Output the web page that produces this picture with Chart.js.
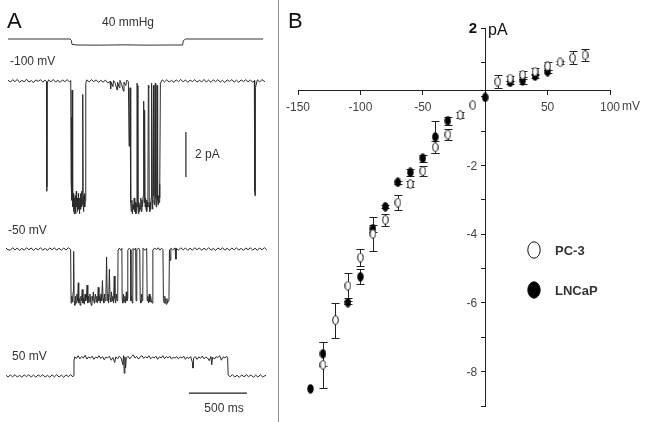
<!DOCTYPE html>
<html>
<head>
<meta charset="utf-8">
<script src="https://cdn.jsdelivr.net/npm/chart.js@4"></script>
<style>
  body { margin: 0; background: #fff; }
  #wrap { position: relative; width: 649px; height: 422px; }
  #cA { position: absolute; left: 0; top: 0; }
  #cB { position: absolute; left: 280px; top: 0; }
  #divider { position: absolute; left: 278px; top: 0; width: 1px; height: 422px; background: #8c8c8c; }
</style>
</head>
<body>
<div id="wrap">
  <canvas id="cA" width="278" height="422"></canvas>
  <div id="divider"></div>
  <canvas id="cB" width="369" height="422"></canvas>
</div>
<script>
// ---------- panel A : single channel traces (time in ms, current in pA) ----------
const pressureTrace = [[0,0],[534,0],[545,-8],[552,-36],[595,-40],[800,-41],[1000,-39],[1200,-41],[1400,-40],[1506,-40],[1511,-12],[1530,0],[2200,0]];

const trace100 = [[0,0.04],[20,-0.05],[40,0.06],[60,-0.03],[80,0.07],[100,-0.06],[120,0.03],[140,-0.04],[160,0.08],[180,-0.05],[200,0.02],[220,-0.07],[240,0.05],[260,-0.02],[280,0.06],[300,-0.05],[320,0.04],[332,-0.03],
  [334,-4.9],[336,-4.7],[338,-0.1],
  [350,0.05],[370,-0.04],[390,0.07],[410,-0.05],[430,0.03],[450,-0.06],[470,0.05],[490,-0.03],[510,0.06],[530,-0.04],[541,0.02],
  [544,-4.4],[547,-5.1],[549,-1.6],[551,-5.3],[553,-0.4],[556,-5.2],[559,-5.6],[562,-5.0],[565,-5.8],[568,-5.3],[571,-5.9],[574,-5.2],[577,-5.7],[580,-5.1],[583,-5.9],[586,-5.4],[589,-4.9],[592,-5.6],[595,-5.2],[598,-5.8],[601,-5.3],[604,-5.6],[607,-5.0],[610,-5.7],[613,-5.4],[616,-5.9],[619,-5.2],[622,-5.5],[625,-5.0],[628,-5.7],[631,-5.3],[634,-5.6],[637,-4.9],[640,-5.5],[643,-5.2],[646,-0.6],[648,-5.4],[651,-5.8],[654,-5.1],[657,-5.5],[660,-5.0],[663,-5.6],[666,-5.3],[669,-4.8],[672,-0.1],
  [680,0.05],[700,-0.04],[720,0.06],[740,-0.03],[760,0.05],[780,-0.06],[800,0.03],[820,-0.05],[840,0.04],[860,-0.08],[880,-0.02],[885,-0.35],[890,-0.05],[905,-0.25],[910,0.02],[925,-0.1],[940,-0.4],[945,-0.05],[960,-0.3],[965,0.03],[980,-0.15],[995,-0.45],[1000,-0.05],[1015,-0.2],[1025,0.04],[1038,-0.03],
  [1044,-2.9],[1048,-2.7],[1052,-0.3],[1058,-5.4],[1063,-5.8],[1068,-5.3],[1073,-5.9],[1078,-5.5],[1083,-5.7],[1088,-5.2],[1093,-5.8],[1098,-5.4],[1103,-5.9],[1108,-5.5],[1112,-0.1],[1116,-0.2],[1120,-5.6],[1124,-5.9],[1128,-5.4],[1132,-5.8],[1136,-5.5],[1140,-5.7],[1145,-5.2],[1150,-5.8],[1155,-5.3],[1160,-5.6],[1165,-5.1],[1170,-0.9],[1174,-5.4],[1178,-1.3],[1182,-5.6],[1186,-5.2],[1190,-5.7],[1194,-5.3],[1198,-5.8],[1202,-5.4],[1206,-5.6],[1210,-0.2],[1214,-0.3],[1218,-5.5],[1222,-5.8],[1226,-5.4],[1230,-5.7],[1234,-5.2],[1238,-0.1],[1242,-5.3],[1246,-5.7],[1250,-5.4],[1254,-0.2],[1258,-5.1],[1262,-5.5],[1266,-5.3],[1270,-0.1],[1274,-5.2],[1278,-5.6],[1282,-5.0],[1286,-0.2],[1290,-5.3],[1294,-5.5],[1298,-5.1],[1302,-5.4],[1306,-4.6],[1310,-5.2],[1314,-0.1],
  [1330,0.05],[1350,-0.04],[1370,0.06],[1390,-0.05],[1410,0.03],[1430,-0.06],[1450,0.05],[1470,-0.03],[1490,0.07],[1510,-0.04],[1530,0.05],[1550,-0.06],[1570,0.04],[1590,-0.03],[1610,0.06],[1630,-0.05],[1650,0.03],[1670,-0.04],[1690,0.07],[1710,-0.05],[1730,0.04],[1750,-0.06],[1770,0.05],[1790,-0.03],[1810,0.06],[1830,-0.05],[1850,0.03],[1870,-0.07],[1890,0.05],[1910,-0.02],[1930,0.06],[1950,-0.05],[1970,0.04],[1990,-0.06],[2010,0.05],[2030,-0.03],[2050,0.06],[2070,-0.04],[2090,0.05],[2110,-0.06],[2124,0.02],
  [2127,-4.9],[2130,-5.1],[2133,-0.3],[2150,0.05],[2170,-0.04],[2190,0.06],[2215,-0.03]];

const trace50neg = [[-17,0.04],[0,-0.03],[20,-0.05],[40,0.06],[60,-0.04],[80,0.05],[100,-0.06],[120,0.03],[140,-0.05],[160,0.06],[180,-0.03],[200,0.05],[220,-0.06],[240,0.04],[260,-0.04],[280,0.06],[300,-0.05],[320,0.03],[340,-0.06],[360,0.05],[380,-0.03],[400,0.06],[420,-0.05],[440,0.04],[460,-0.06],[480,0.05],[500,-0.04],[520,0.06],[540,-0.02],
  [544,-2.4],[550,-2.1],[556,-2.35],[562,-1.9],[566,-0.1],[570,-2.3],[576,-2.5],[582,-2.1],[588,-2.4],[594,-2.0],[600,-2.3],[606,-1.5],[610,-2.4],[616,-2.2],[622,-2.5],[628,-2.1],[634,-2.3],[640,-1.8],[646,-2.4],[652,-2.2],[658,-2.45],[664,-2.0],[670,-2.3],[676,-2.2],[682,-1.6],[688,-2.4],[694,-2.1],[700,-2.35],[706,-2.0],[712,-2.3],[718,-2.5],[724,-2.1],[730,-2.3],[736,-1.9],[742,-2.4],[748,-2.2],[754,-2.0],[760,-2.35],[766,-2.1],[772,-2.4],[778,-1.7],[784,-2.3],[790,-2.1],[796,-2.4],[802,-2.0],[808,-2.3],[814,-1.4],[820,-2.2],[826,-2.4],[832,-2.0],[838,-2.3],[844,-2.1],[850,-0.35],[856,-2.3],[862,-2.0],[868,-2.4],[874,-0.9],[880,-2.2],[886,-2.35],[892,-1.9],[898,-2.3],[904,-2.1],[910,-2.4],[916,-1.2],[922,-2.2],[928,-2.4],[934,-2.0],[940,-2.3],[946,-2.2],
  [949,-0.05],[960,0.04],[972,-0.05],[982,0.03],
  [984,-2.2],[990,-2.4],[996,-2.0],[1002,-2.35],[1008,-2.1],[1014,-2.4],[1020,-1.9],[1026,-2.3],[1031,-2.2],
  [1033,-0.05],[1046,0.04],[1058,-0.03],
  [1060,-2.3],[1066,-2.1],[1072,-2.4],[1076,-2.2],
  [1078,0.03],[1090,-0.04],[1101,0.05],
  [1104,-2.3],[1109,-2.1],
  [1112,-0.04],[1125,0.05],[1136,-0.03],
  [1140,-2.25],[1146,-2.4],[1152,-2.0],[1158,-2.3],[1162,-2.2],
  [1164,0.04],[1180,-0.05],[1196,0.03],
  [1200,-2.3],[1206,-2.1],[1212,-2.4],[1218,-2.0],[1224,-2.35],[1230,-2.1],[1236,-2.3],[1242,-2.4],[1248,-2.15],
  [1250,-0.04],[1265,0.05],[1280,-0.03],[1295,0.06],[1310,-0.05],[1325,0.04],[1336,-0.02],
  [1340,-2.2],[1346,-2.4],[1352,-2.1],[1358,-2.35],[1364,-2.45],[1370,-2.2],[1376,-2.4],[1382,-2.3],[1388,-2.1],
  [1392,-0.03],[1398,-0.5],[1404,0.04],[1420,-0.04],[1440,0.05],[1448,-0.45],[1452,0.03],[1470,-0.05],[1490,0.06],[1510,-0.04],[1530,0.05],[1550,-0.06],[1570,0.04],[1590,-0.05],[1610,0.06],[1630,-0.03],[1650,0.05],[1670,-0.06],[1690,0.04],[1710,-0.04],[1730,0.06],[1750,-0.05],[1770,0.03],[1790,-0.06],[1810,0.05],[1830,-0.03],[1850,0.06],[1870,-0.05],[1890,0.04],[1910,-0.06],[1930,0.05],[1950,-0.04],[1970,0.06],[1990,-0.05],[2010,0.03],[2030,-0.06],[2050,0.05],[2070,-0.03],[2090,0.06],[2110,-0.05],[2130,0.04],[2150,-0.06],[2170,0.05],[2190,-0.03],[2210,0.06],[2232,-0.04]];

const trace50 = [[-17,0.03],[0,-0.05],[20,0.05],[40,-0.04],[60,0.06],[80,-0.05],[100,0.03],[120,-0.06],[140,0.05],[160,-0.03],[180,0.06],[200,-0.05],[220,0.04],[240,-0.06],[260,0.05],[280,-0.03],[300,0.06],[320,-0.05],[340,0.03],[360,-0.06],[380,0.05],[400,-0.04],[420,0.06],[440,-0.05],[460,0.04],[480,-0.06],[500,0.05],[520,-0.03],[540,0.06],[560,-0.04],[566,0.02],
  [569,0.7],[575,0.85],[590,0.78],[605,0.9],[620,0.76],[635,0.86],[650,0.8],[665,0.92],[680,0.75],[695,0.85],[710,0.79],[725,0.88],[740,0.74],[755,0.84],[770,0.8],[785,0.9],[800,0.77],[815,0.86],[830,0.72],[845,0.84],[860,0.8],[875,0.88],[890,0.7],[905,0.82],[920,0.6],[930,0.85],[945,0.76],[960,0.88],[975,0.8],[990,0.5],[996,0.9],[1002,0.12],[1008,0.85],[1014,0.35],[1020,0.8],[1035,0.88],[1050,0.76],[1065,0.86],[1080,0.94],[1095,0.8],[1110,0.87],[1125,0.75],[1140,0.85],[1155,0.9],[1170,0.78],[1185,0.86],[1200,0.8],[1215,0.9],[1230,0.76],[1245,0.84],[1260,0.8],[1275,0.88],[1290,0.74],[1305,0.85],[1320,0.8],[1335,0.9],[1350,0.77],[1365,0.86],[1380,0.8],[1395,0.88],[1410,0.75],[1425,0.84],[1440,0.79],[1455,0.86],[1470,0.76],[1485,0.85],[1500,0.8],[1515,0.88],[1530,0.74],[1545,0.84],[1560,0.78],[1575,0.86],[1590,0.6],[1595,0.35],[1600,0.8],[1615,0.86],[1630,0.74],[1645,0.85],[1660,0.79],[1675,0.88],[1690,0.76],[1705,0.84],[1720,0.8],[1735,0.68],[1750,0.86],[1757,0.5],[1764,0.84],[1780,0.75],[1795,0.86],[1810,0.82],[1825,0.9],[1840,0.7],[1855,0.85],[1870,0.8],[1885,0.88],[1894,0.78],
  [1898,0.05],[1915,-0.04],[1935,0.06],[1955,-0.05],[1975,0.03],[1995,-0.06],[2015,0.05],[2035,-0.04],[2055,0.06],[2075,-0.03],[2095,0.05],[2115,-0.06],[2135,0.04],[2155,-0.05],[2175,0.06],[2195,-0.04],[2224,0.03]];

// baselines of the three traces on the panel-A current axis
const base100 = -3.6, base50neg = -11.07, base50 = -16.71;

function shift(trace, base) {
  return trace.map(p => ({x: p[0], y: p[1] + base}));
}

const textA = {
  id: 'textA',
  afterDraw(chart) {
    const ctx = chart.ctx;
    const xs = chart.scales.x, ys = chart.scales.y;
    ctx.save();
    ctx.fillStyle = '#111';
    ctx.font = '22px "Liberation Sans", Arial, sans-serif';
    ctx.textBaseline = 'alphabetic';
    ctx.fillText('A', 7, 28);
    ctx.fillStyle = '#333';
    ctx.font = '12px "Liberation Sans", Arial, sans-serif';
    ctx.textBaseline = 'middle';
    ctx.textAlign = 'center';
    ctx.fillText('40 mmHg', 128, 23);
    ctx.fillText('500 ms', 224, 409);
    ctx.textAlign = 'left';
    ctx.fillText('-100 mV', 10, 62);
    ctx.fillText('-50 mV', 8, 231);
    ctx.fillText('50 mV', 12, 357);
    ctx.fillText('2 pA', 195, 155);
    // scale bars
    ctx.strokeStyle = '#222';
    ctx.lineWidth = 1.2;
    ctx.beginPath();
    const bx = xs.getPixelForValue(1534);
    ctx.moveTo(bx, ys.getPixelForValue(-5.87));
    ctx.lineTo(bx, ys.getPixelForValue(-7.87));
    const by = ys.getPixelForValue(-17.47);
    ctx.moveTo(xs.getPixelForValue(1560), by);
    ctx.lineTo(xs.getPixelForValue(2060), by);
    ctx.stroke();
    ctx.restore();
  }
};

const traceStyle = {borderColor: '#2a2a2a', borderWidth: 1, pointRadius: 0, tension: 0, fill: false};

new Chart(document.getElementById('cA'), {
  type: 'line',
  data: {
    datasets: [
      Object.assign({data: pressureTrace.map(p => ({x: p[0], y: p[1]})), yAxisID: 'yP'}, traceStyle, {borderColor: '#333'}),
      Object.assign({data: shift(trace100, base100)}, traceStyle),
      Object.assign({data: shift(trace50neg, base50neg)}, traceStyle),
      Object.assign({data: shift(trace50, base50)}, traceStyle)
    ]
  },
  options: {
    responsive: false,
    animation: false,
    devicePixelRatio: 1,
    layout: {padding: 0},
    plugins: {legend: {display: false}, tooltip: {enabled: false}},
    scales: {
      x: {type: 'linear', min: -69, max: 2328, display: false},
      y: {min: -18.756, max: 0, display: false},
      yP: {min: -2553, max: 260, display: false}
    }
  },
  plugins: [textA]
});

// ---------- panel B : I-V relation ----------
const pc3Volt = [-130, -120, -110, -100, -90, -80, -70, -60, -50, -40, -30, -20, -10, 10, 20, 30, 40, 50, 60, 70, 80];
const pc3Curr = [-7.8, -6.5, -5.5, -4.68, -3.99, -3.58, -3.08, -2.54, -2.16, -1.47, -1.1, -0.53, -0.24, 0.44, 0.53, 0.64, 0.73, 0.89, 1.0, 1.13, 1.21];
const pc3Err  = [0.67, 0.51, 0.37, 0.26, 0.49, 0.17, 0.22, 0.1, 0.15, 0.18, 0.15, 0.1, 0, 0.18, 0.08, 0.12, 0.1, 0.12, 0.05, 0.19, 0.18];

const lncVolt = [-140, -130, -110, -100, -90, -80, -70, -60, -50, -40, -30, 0, 20, 30, 40, 50];
const lncCurr = [-8.5, -7.48, -5.99, -5.24, -3.84, -3.2, -2.49, -2.2, -1.79, -1.17, -0.7, -0.02, 0.42, 0.47, 0.6, 0.73];
const lncErr  = [0, 0.35, 0.05, 0.22, 0.1, 0.05, 0.05, 0.1, 0.1, 0.47, 0.12, 0, 0.05, 0.1, 0.05, 0.05];

const yTicksShown = [2, -2, -4, -6, -8];
const xTicksShown = [-150, -100, -50, 50, 100];

function ovalMarker(w, h, filled) {
  const c = document.createElement('canvas');
  c.width = w; c.height = h;
  const g = c.getContext('2d');
  g.beginPath();
  g.ellipse(w / 2, h / 2, w / 2 - 0.8, h / 2 - 0.8, 0, 0, Math.PI * 2);
  g.fillStyle = filled ? '#000' : '#fff';
  g.fill();
  g.lineWidth = 1;
  g.strokeStyle = '#111';
  g.stroke();
  return c;
}
const openDot = ovalMarker(7, 10, false);
const fillDot = ovalMarker(7, 10, true);
const openBig = ovalMarker(14, 18, false);
const fillBig = ovalMarker(14, 18, true);

const errorBars = {
  id: 'errorBars',
  beforeDatasetsDraw(chart) {
    const ctx = chart.ctx;
    const xs = chart.scales.x, ys = chart.scales.y;
    ctx.save();
    ctx.strokeStyle = '#222';
    ctx.lineWidth = 1;
    [[lncVolt, lncCurr, lncErr], [pc3Volt, pc3Curr, pc3Err]].forEach(s => {
      for (let i = 0; i < s[0].length; i++) {
        if (!s[2][i]) continue;
        const x = Math.round(xs.getPixelForValue(s[0][i])) + 0.5;
        const y1 = Math.round(ys.getPixelForValue(s[1][i] + s[2][i])) + 0.5;
        const y2 = Math.round(ys.getPixelForValue(s[1][i] - s[2][i])) + 0.5;
        ctx.beginPath();
        ctx.moveTo(x, y1); ctx.lineTo(x, y2);
        ctx.moveTo(x - 4, y1); ctx.lineTo(x + 4, y1);
        ctx.moveTo(x - 4, y2); ctx.lineTo(x + 4, y2);
        ctx.stroke();
      }
    });
    ctx.restore();
  },
  afterDraw(chart) {
    const ctx = chart.ctx;
    const xs = chart.scales.x, ys = chart.scales.y;
    const axisX = xs.getPixelForValue(0);
    ctx.save();
    // y tick labels, left of the crossing axis
    ctx.textAlign = 'right';
    ctx.textBaseline = 'middle';
    ys.ticks.forEach(t => {
      if (!yTicksShown.includes(t.value)) return;
      if (t.value === 2) {
        ctx.fillStyle = '#111';
        ctx.font = 'bold 15px "Liberation Sans", Arial, sans-serif';
      } else {
        ctx.fillStyle = '#444';
        ctx.font = '12px "Liberation Sans", Arial, sans-serif';
      }
      ctx.fillText(String(t.value), axisX - 8, ys.getPixelForValue(t.value) + 1);
    });
    ctx.textAlign = 'left';
    ctx.textBaseline = 'alphabetic';
    ctx.fillStyle = '#111';
    ctx.font = '22px "Liberation Sans", Arial, sans-serif';
    ctx.fillText('B', 8, 28);
    ctx.font = '16px "Liberation Sans", Arial, sans-serif';
    ctx.textBaseline = 'middle';
    ctx.fillText('pA', 208, 31);
    ctx.fillStyle = '#444';
    ctx.font = '12px "Liberation Sans", Arial, sans-serif';
    ctx.fillText('mV', 342, 107);
    // legend
    ctx.drawImage(openBig, 247, 241);
    ctx.drawImage(fillBig, 247, 281);
    ctx.fillStyle = '#333';
    ctx.font = 'bold 13px "Liberation Sans", Arial, sans-serif';
    ctx.fillText('PC-3', 275, 251);
    ctx.fillText('LNCaP', 275, 291);
    ctx.restore();
  }
};

new Chart(document.getElementById('cB'), {
  type: 'scatter',
  data: {
    datasets: [
      {label: 'PC-3', data: pc3Volt.map((v, i) => ({x: v, y: pc3Curr[i]})), pointStyle: openDot, order: 0},
      {label: 'LNCaP', data: lncVolt.map((v, i) => ({x: v, y: lncCurr[i]})), pointStyle: fillDot, order: 1}
    ]
  },
  options: {
    responsive: false,
    animation: false,
    devicePixelRatio: 1,
    layout: {padding: {left: 18, right: 39, top: 28, bottom: 16}},
    plugins: {legend: {display: false}, tooltip: {enabled: false}},
    scales: {
      x: {
        type: 'linear', min: -150, max: 100, position: {y: 0.175},
        border: {color: '#222', width: 1},
        grid: {drawOnChartArea: false, tickLength: 4, color: '#222'},
        ticks: {stepSize: 50, autoSkip: false, maxRotation: 0, padding: 6, color: '#444',
          font: {family: '"Liberation Sans", Arial, sans-serif', size: 12},
          callback: v => xTicksShown.includes(v) ? String(v) : ''}
      },
      y: {
        type: 'linear', min: -9, max: 2, position: {x: 0},
        border: {color: '#222', width: 1},
        grid: {drawOnChartArea: false, tickLength: 4, color: '#222'},
        ticks: {stepSize: 1, autoSkip: false, callback: () => ''}
      }
    }
  },
  plugins: [errorBars]
});
</script>
</body>
</html>
